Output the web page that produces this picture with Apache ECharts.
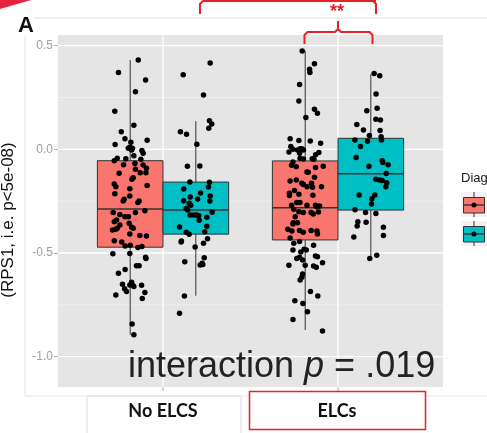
<!DOCTYPE html>
<html><head><meta charset="utf-8">
<script src="https://cdn.jsdelivr.net/npm/echarts@6/dist/echarts.min.js"></script>
<style>html,body{margin:0;padding:0;background:#fff}#chart{width:487px;height:433px}</style>
</head><body><div id="chart"></div>
<script>
// ---- data ----
const groups = ['No ELCS', 'ELCs'];
const yTicks = [-1.0, -0.5, 0.0, 0.5];
const yMinorTicks = [-0.75, -0.25, 0.25];
const xTicks = [1, 2];

// box statistics: [lower whisker, Q1, median, Q3, upper whisker]
const boxNoElcsA = [-0.894, -0.472, -0.288, -0.055, 0.430];
const boxNoElcsB = [-0.706, -0.409, -0.293, -0.158, 0.136];
const boxElcsA = [-0.871, -0.437, -0.282, -0.056, 0.474];
const boxElcsB = [-0.526, -0.293, -0.118, 0.053, 0.363];

// individual subjects: [jitter offset, value]
const ptsNoElcsA = [
  [0.046,0.431],[-0.067,0.370],[0.088,0.334],[0.030,0.277],[-0.088,0.183],[0.021,0.116],[-0.051,0.084],
  [-0.030,0.051],[0.097,0.043],[-0.086,0.023],[0.004,0.034],[-0.002,0.010],[-0.011,0.005],[0.013,0.005],
  [0.008,-0.003],[0.067,-0.006],[0.074,-0.019],[0.021,-0.031],[-0.025,-0.045],[-0.074,-0.043],[-0.091,-0.055],
  [0.061,-0.048],[-0.038,-0.074],[0.027,-0.068],[0.074,-0.076],[0.093,-0.092],[0.057,-0.113],[-0.063,-0.116],
  [0.090,-0.113],[0.017,-0.137],[0.010,-0.145],[0.097,-0.174],[-0.091,-0.167],[-0.082,-0.180],[-0.002,-0.190],
  [-0.088,-0.214],[-0.034,-0.241],[-0.040,-0.249],[0.051,-0.249],[0.044,-0.256],[-0.002,-0.225],[0.030,-0.096],
  [0.084,-0.296],[-0.097,-0.305],[-0.059,-0.314],[-0.030,-0.325],[-0.010,-0.325],[-0.091,-0.349],[-0.078,-0.341],
  [0.030,-0.305],[-0.059,-0.365],[-0.006,-0.357],[0.008,-0.376],[0.017,-0.381],[-0.101,-0.389],[-0.082,-0.386],
  [-0.074,-0.381],[-0.002,-0.408],[0.055,-0.416],[0.093,-0.418],[-0.091,-0.441],[-0.048,-0.447],[-0.029,-0.466],
  [0.000,-0.463],[0.044,-0.473],[0.067,-0.469],[-0.002,-0.502],[-0.099,-0.503],[0.090,-0.526],[0.088,-0.521],
  [0.036,-0.561],[0.051,-0.561],[-0.029,-0.579],[-0.067,-0.598],[-0.044,-0.651],[-0.032,-0.672],[-0.021,-0.686],
  [0.008,-0.641],[0.013,-0.654],[0.021,-0.662],[-0.002,-0.654],[0.065,-0.656],[0.084,-0.690],[-0.082,-0.703],
  [0.069,-0.719],[0.011,-0.842],[0.021,-0.894]
];
const ptsNoElcsB = [
  [0.082,0.416],[-0.072,0.359],[0.044,0.262],[0.078,0.138],[0.091,0.122],[0.074,0.101],[-0.088,0.084],
  [-0.053,0.072],[0.006,0.024],[-0.048,-0.082],[0.023,-0.080],[-0.034,-0.158],[0.078,-0.159],[0.072,-0.182],
  [-0.069,-0.191],[0.027,-0.211],[-0.032,-0.230],[0.082,-0.225],[0.010,-0.240],[-0.070,-0.248],[0.080,-0.249],
  [-0.038,-0.260],[-0.029,-0.270],[-0.055,-0.285],[-0.046,-0.293],[0.093,-0.304],[-0.032,-0.317],[-0.013,-0.317],
  [0.004,-0.317],[0.017,-0.320],[0.019,-0.342],[0.063,-0.328],[0.063,-0.371],[-0.093,-0.375],[0.051,-0.397],
  [-0.055,-0.400],[-0.038,-0.410],[0.067,-0.431],[-0.082,-0.442],[-0.084,-0.447],[0.044,-0.453],[-0.004,-0.471],
  [0.048,-0.523],[0.036,-0.550],[0.025,-0.558],[0.040,-0.555],[-0.063,-0.542],[-0.065,-0.707],[-0.093,-0.791]
];
const ptsElcsA = [
  [-0.017,0.474],[0.053,0.412],[0.025,0.386],[0.027,0.370],[-0.032,0.312],[-0.036,0.233],[0.053,0.193],
  [0.070,0.174],[0.004,0.153],[-0.086,0.051],[-0.036,0.042],[0.029,0.040],[0.088,0.029],[-0.082,0.013],
  [-0.070,0.000],[-0.093,-0.013],[-0.044,-0.003],[-0.029,0.003],[-0.019,0.003],[-0.010,-0.003],[-0.032,-0.019],
  [0.078,-0.016],[0.059,-0.026],[-0.029,-0.043],[-0.010,-0.047],[0.040,-0.045],[0.050,-0.048],[-0.078,-0.077],
  [-0.051,-0.084],[-0.070,-0.061],[0.103,-0.082],[0.059,-0.088],[0.010,-0.109],[0.017,-0.111],[0.053,-0.135],
  [-0.086,-0.153],[-0.051,-0.148],[-0.019,-0.164],[-0.010,-0.170],[0.036,-0.164],[0.093,-0.180],[0.011,-0.180],
  [0.042,-0.183],[-0.036,-0.217],[-0.090,-0.212],[-0.090,-0.223],[0.044,-0.222],[-0.061,-0.199],[-0.048,-0.257],
  [-0.030,-0.257],[-0.078,-0.270],[0.010,-0.270],[0.059,-0.270],[0.067,-0.277],[0.082,-0.273],[-0.065,-0.289],
  [-0.036,-0.301],[-0.011,-0.305],[0.034,-0.305],[0.046,-0.312],[0.076,-0.302],[-0.057,-0.325],[-0.067,-0.354],
  [-0.044,-0.354],[-0.070,-0.360],[-0.099,-0.386],[-0.076,-0.394],[-0.032,-0.392],[-0.011,-0.400],[0.034,-0.391],
  [0.067,-0.394],[0.070,-0.408],[-0.086,-0.428],[-0.032,-0.444],[-0.065,-0.453],[0.048,-0.463],[-0.070,-0.486],
  [-0.006,-0.482],[0.006,-0.486],[-0.025,-0.495],[0.059,-0.514],[0.070,-0.518],[-0.032,-0.521],[-0.048,-0.527],
  [-0.015,-0.534],[0.099,-0.547],[-0.093,-0.559],[0.000,-0.559],[0.048,-0.563],[0.063,-0.569],[-0.015,-0.601],
  [-0.019,-0.617],[-0.029,-0.630],[0.030,-0.685],[0.072,-0.707],[-0.059,-0.730],[-0.013,-0.743],[0.013,-0.783],
  [-0.070,-0.820],[0.099,-0.876]
];
const ptsElcsB = [
  [0.019,0.365],[0.051,0.354],[0.030,0.267],[-0.023,0.186],[0.036,0.198],[0.029,0.145],[0.055,0.141],
  [-0.080,0.119],[-0.042,0.093],[0.053,0.090],[-0.008,0.066],[0.059,0.061],[0.061,0.045],[-0.019,0.039],
  [-0.091,0.045],[-0.059,0.013],[-0.084,-0.040],[0.065,-0.055],[0.069,-0.064],[0.099,-0.074],[-0.011,-0.082],
  [0.088,-0.117],[0.029,-0.145],[0.051,-0.148],[0.065,-0.151],[0.091,-0.161],[0.086,-0.180],[0.023,-0.220],
  [-0.067,-0.220],[0.006,-0.238],[0.004,-0.264],[-0.090,-0.291],[-0.030,-0.305],[0.029,-0.310],[-0.074,-0.349],
  [-0.027,-0.352],[-0.078,-0.370],[0.072,-0.376],[-0.097,-0.423],[0.072,-0.416],[-0.006,-0.526],[0.034,-0.511]
];

// ---- layout constants ----
const DODGE = 0.1875;     // half of the dodge width
const HALF = 0.1875;      // half of one box width
const X_MIN = 0.4, X_MAX = 2.6, Y_MIN = -1.146, Y_MAX = 0.551;
const COLORS = ['#F8766D', '#00BFC4'];
const FONT = 'Liberation Sans, Arial, sans-serif';

const boxData = [
  [1 - DODGE, ...boxNoElcsA, 0],
  [1 + DODGE, ...boxNoElcsB, 1],
  [2 - DODGE, ...boxElcsA, 0],
  [2 + DODGE, ...boxElcsB, 1]
];
const place = (pos, pts) => pts.map(p => [pos + p[0], p[1]]);
const pointData = [].concat(
  place(1 - DODGE, ptsNoElcsA), place(1 + DODGE, ptsNoElcsB),
  place(2 - DODGE, ptsElcsA), place(2 + DODGE, ptsElcsB)
);

const hGrid = yTicks.map(v => [1.5, v, 1]).concat(yMinorTicks.map(v => [1.5, v, 0]));
const vGrid = xTicks.map(v => [v, 0]);

function renderHGrid(params, api) {
  const v = api.value(1);
  const a = api.coord([X_MIN, v]), b = api.coord([X_MAX, v]);
  const major = api.value(2) === 1;
  return { type: 'line', shape: { x1: a[0], y1: a[1], x2: b[0], y2: b[1] },
    style: { stroke: major ? '#ffffff' : '#f2f2f2', lineWidth: major ? 1.3 : 0.8 } };
}
function renderVGrid(params, api) {
  const x = api.value(0);
  const t = api.coord([x, Y_MAX]), b = api.coord([x, Y_MIN]);
  return { type: 'group', children: [
    { type: 'line', shape: { x1: t[0], y1: t[1], x2: b[0], y2: b[1] }, style: { stroke: '#ffffff', lineWidth: 1.3 } },
    { type: 'line', shape: { x1: b[0], y1: b[1], x2: b[0], y2: b[1] + 4 }, style: { stroke: '#b0b0b0', lineWidth: 1 } }
  ] };
}
function renderBox(params, api) {
  const x = api.value(0);
  const lw = api.coord([x, api.value(1)]);
  const q1 = api.coord([x - HALF, api.value(2)]);
  const md = api.coord([x - HALF, api.value(3)]);
  const q3 = api.coord([x + HALF, api.value(4)]);
  const uw = api.coord([x, api.value(5)]);
  const fill = COLORS[api.value(6)];
  const stroke = { stroke: '#333333', lineWidth: 1 };
  return { type: 'group', children: [
    { type: 'line', shape: { x1: lw[0], y1: lw[1], x2: lw[0], y2: q1[1] }, style: stroke },
    { type: 'line', shape: { x1: uw[0], y1: q3[1], x2: uw[0], y2: uw[1] }, style: stroke },
    { type: 'rect', shape: { x: q1[0], y: q3[1], width: q3[0] - q1[0], height: q1[1] - q3[1] },
      style: { fill: fill, stroke: '#333333', lineWidth: 1 } },
    { type: 'line', shape: { x1: q1[0], y1: md[1], x2: q3[0], y2: md[1] }, style: { stroke: '#333333', lineWidth: 1.6 } }
  ] };
}

const RED = '#e8202a';
const chart = echarts.init(document.getElementById('chart'), null, { renderer: 'canvas' });

function legendKey(y, color) {
  return {
    type: 'group', x: 461, y: y, children: [
      { type: 'rect', shape: { x: 0, y: 0, width: 28, height: 25 }, style: { fill: '#f2f2f2' } },
      { type: 'line', shape: { x1: 13, y1: 0, x2: 13, y2: 25 }, style: { stroke: '#333', lineWidth: 1 } },
      { type: 'rect', shape: { x: 2.5, y: 5.5, width: 21, height: 15.5 }, style: { fill: color, stroke: '#333', lineWidth: 1 } },
      { type: 'line', shape: { x1: 2.5, y1: 13, x2: 23.5, y2: 13 }, style: { stroke: '#333', lineWidth: 1.4 } },
      { type: 'circle', shape: { cx: 13, cy: 13, r: 2.5 }, style: { fill: '#000' } }
    ]
  };
}

chart.setOption({
  animation: false,
  backgroundColor: '#ffffff',
  grid: { left: 58, right: 44, top: 35, bottom: 46, show: true, backgroundColor: '#e5e5e5', borderWidth: 0 },
  xAxis: { type: 'value', min: X_MIN, max: X_MAX, axisLine: { show: false }, axisTick: { show: false },
    axisLabel: { show: false }, splitLine: { show: false } },
  yAxis: { type: 'value', min: Y_MIN, max: Y_MAX, axisLine: { show: false }, splitLine: { show: false },
    axisTick: { show: true, customValues: yTicks, length: 4, lineStyle: { color: '#b0b0b0' } },
    axisLabel: { customValues: yTicks, formatter: v => v.toFixed(1), color: '#9aa1a9', fontSize: 12,
      margin: 5, fontFamily: FONT } },
  series: [
    { type: 'custom', name: 'hgrid', data: hGrid, renderItem: renderHGrid, silent: true, z: 1 },
    { type: 'custom', name: 'vgrid', data: vGrid, renderItem: renderVGrid, silent: true, z: 1 },
    { type: 'custom', name: 'boxes', data: boxData, renderItem: renderBox, silent: true, z: 2 },
    { type: 'scatter', name: 'subjects', data: pointData, symbol: 'circle', symbolSize: 5.5,
      itemStyle: { color: '#000000', opacity: 1 }, silent: true, z: 3 }
  ],
  graphic: [
    // slide frame
    { type: 'line', shape: { x1: 25, y1: 36, x2: 25, y2: 396 }, style: { stroke: '#e2e2e2', lineWidth: 1 }, z: 10 },
    { type: 'line', shape: { x1: 34, y1: 18, x2: 487, y2: 18 }, style: { stroke: '#e2e2e2', lineWidth: 1 }, z: 10 },
    { type: 'line', shape: { x1: 25, y1: 396, x2: 487, y2: 396 }, style: { stroke: '#e2e2e2', lineWidth: 1 }, z: 10 },
    { type: 'polygon', shape: { points: [[0, 0], [31, 0], [0, 9]] }, style: { fill: '#e4243c' }, z: 10 },
    { type: 'text', style: { x: 26, y: 26, text: 'A', font: 'bold 22px ' + FONT, fill: '#111',
      textAlign: 'center', textVerticalAlign: 'middle' }, z: 10 },
    { type: 'text', x: 8.5, y: 220, rotation: Math.PI / 2,
      style: { x: 0, y: 0, text: '(RPS1, i.e. p<5e-08)', font: '17px ' + FONT, fill: '#111111',
        textAlign: 'center', textVerticalAlign: 'middle' }, z: 10 },
    // significance braces
    { type: 'polyline', shape: { points: [[200, 14], [200, 4], [203, 1], [376, 1]] },
      style: { stroke: RED, lineWidth: 2, fill: null }, z: 10 },
    { type: 'polyline', shape: { points: [[373, 1], [376, 4], [376, 14]] },
      style: { stroke: RED, lineWidth: 2, fill: null }, z: 10 },
    { type: 'line', shape: { x1: 288, y1: 1, x2: 288, y2: -3 }, style: { stroke: RED, lineWidth: 2 }, z: 10 },
    { type: 'polyline', shape: { points: [[304.5, 44], [304.5, 35], [307.5, 32], [335, 32], [338, 29], [338, 21]] },
      style: { stroke: RED, lineWidth: 2, fill: null }, z: 10 },
    { type: 'polyline', shape: { points: [[338, 29], [341, 32], [369.5, 32], [372.5, 35], [372.5, 44]] },
      style: { stroke: RED, lineWidth: 2, fill: null }, z: 10 },
    { type: 'text', style: { x: 337, y: 12, text: '**', font: 'bold 18px ' + FONT, fill: RED,
      textAlign: 'center', textVerticalAlign: 'middle' }, z: 10 },
    // interaction annotation
    { type: 'text', style: { x: 128, y: 367, text: '{a|interaction }{b|p}{a| = .019}',
      textAlign: 'left', textVerticalAlign: 'middle',
      rich: { a: { font: '36px ' + FONT, fill: '#222222' }, b: { font: 'italic 36px ' + FONT, fill: '#222222' } } }, z: 10 },
    // category label boxes
    { type: 'rect', shape: { x: 87, y: 396, width: 154, height: 40 }, style: { fill: '#ffffff', stroke: '#dcdcdc', lineWidth: 1 }, z: 10 },
    { type: 'text', style: { x: 163, y: 411, text: groups[0], font: 'bold 18px Lato, ' + FONT, fill: '#111',
      textAlign: 'center', textVerticalAlign: 'middle' }, z: 11 },
    { type: 'rect', shape: { x: 249.5, y: 391.5, width: 176, height: 38 }, style: { fill: '#ffffff', stroke: RED, lineWidth: 1.5 }, z: 10 },
    { type: 'text', style: { x: 337, y: 411, text: groups[1], font: 'bold 18px Lato, ' + FONT, fill: '#111',
      textAlign: 'center', textVerticalAlign: 'middle' }, z: 11 },
    // legend (partly outside the page)
    { type: 'text', style: { x: 461, y: 178, text: 'Diag', font: '13px ' + FONT, fill: '#1a1a1a',
      textAlign: 'left', textVerticalAlign: 'middle' }, z: 10 },
    Object.assign(legendKey(192, COLORS[0]), { z: 10 }),
    Object.assign(legendKey(221, COLORS[1]), { z: 10 })
  ]
});
</script>
</body></html>
